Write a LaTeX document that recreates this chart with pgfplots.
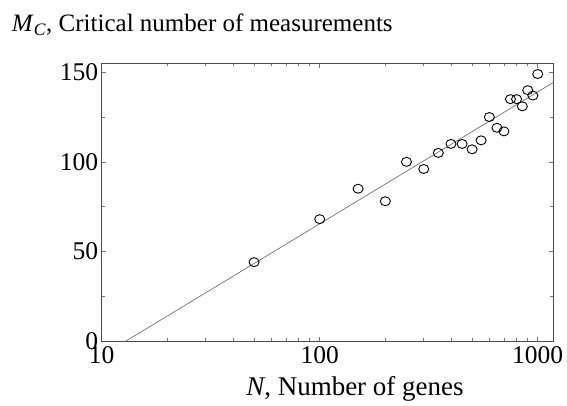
\documentclass[border=0pt]{standalone}
\usepackage{fontspec}
\setmainfont{Liberation Serif}
\usepackage{pgfplots}
\pgfplotsset{compat=1.18}
\begin{document}
\begin{tikzpicture}
\begin{axis}[
  scale only axis,
  width=451.6pt, height=277.7pt,
  xmode=log, log basis x=10,
  xmin=10, xmax=1179,
  ymin=0, ymax=155,
  xtick={10,100,1000}, xticklabels={10,100,1000},
  minor xtick={20,30,40,50,60,70,80,90,200,300,400,500,600,700,800,900},
  ytick={0,50,100,150},
  minor ytick={25,75,125},
  tick align=inside,
  major tick length=4.5pt, minor tick length=3pt,
  axis line style={black!70, line width=0.9pt},
  every tick/.style={black!55, line width=0.6pt},
  tick label style={font=\fontsize{25.5}{30}\selectfont},
  xticklabel style={yshift=-2pt},
  /pgf/number format/assume math mode=true,
]
\addplot[black!55, line width=0.7pt, no marks] coordinates {(12.93,0) (1179,144.3)};
\addplot[only marks, mark=o, mark size=4.5pt, black, line width=0.9pt,
  mark options={xscale=1.12}] coordinates {
  (50,44) (100,68) (150,85) (200,78) (250,100) (300,96) (350,105)
  (400,110) (450,110) (500,107) (550,112) (600,125) (650,119) (700,117)
  (750,135) (800,135) (850,131) (900,140) (950,137) (1000,149)
};
\end{axis}
\node[anchor=base west, font=\fontsize{25}{30}\selectfont, inner sep=0pt]
  at ([xshift=-90pt, yshift=31.6pt]current axis.north west)
  {\textit{M}\textsubscript{\textit{C}}, Critical number of measurements};
\node[anchor=base, font=\fontsize{27}{32}\selectfont, inner sep=0pt]
  at ([xshift=27.5pt, yshift=-54pt]current axis.south)
  {\textit{N}, Number of genes};
\pgfresetboundingbox
\path ([xshift=-101.7pt, yshift=-64pt]current axis.south west)
  rectangle ([xshift=13.7pt, yshift=63.3pt]current axis.north east);
\end{tikzpicture}
\end{document}
